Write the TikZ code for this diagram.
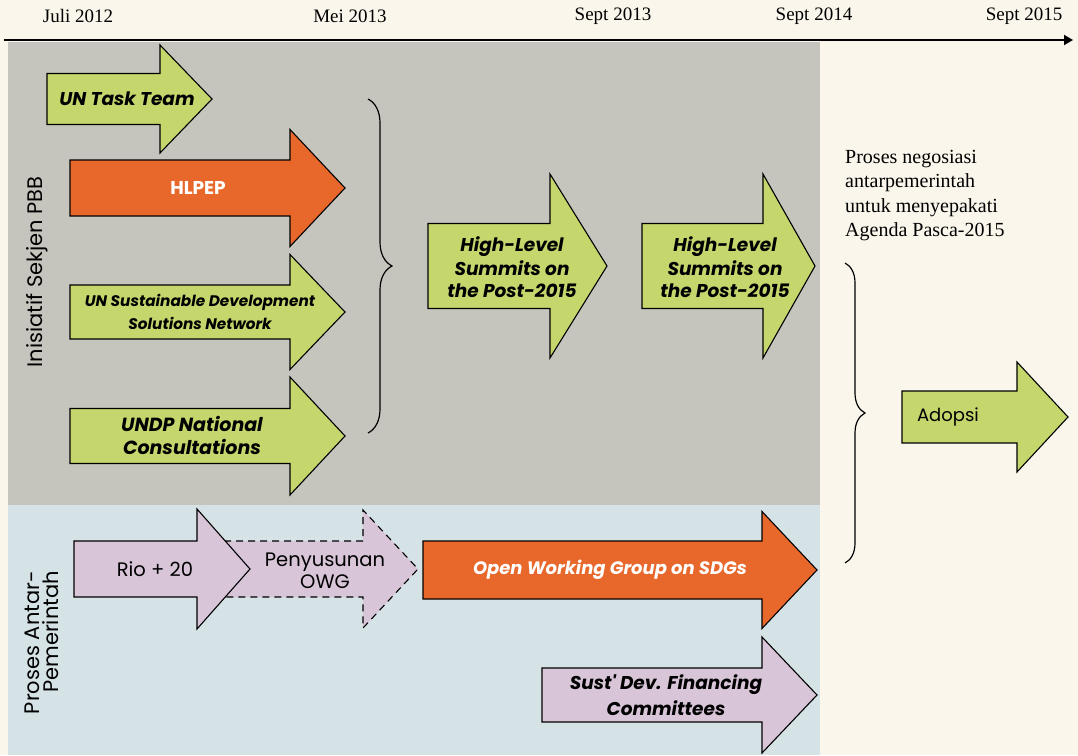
\documentclass[tikz,border=0pt]{standalone}
\usepackage{fontspec}
\setmainfont{Liberation Serif}
\newfontfamily\pop{Poppins}
\usetikzlibrary{decorations.pathreplacing,arrows.meta}
\definecolor{cream}{HTML}{FAF6EC}
\definecolor{graybg}{HTML}{C6C5BD}
\definecolor{bluebg}{HTML}{D5E2E6}
\definecolor{agreen}{HTML}{C4D66C}
\definecolor{aorange}{HTML}{E8682C}
\definecolor{apurple}{HTML}{D8C5D8}
\newcommand{\blockarrow}[8][]{%
  \draw[#1] (#3,#6-#7) -- (#4,#6-#7) -- (#4,#6-#8) -- (#5,#6) -- (#4,#6+#8) -- (#4,#6+#7) -- (#3,#6+#7) -- cycle;
  \coordinate (#2) at (#5,#6);}
\newcommand{\fs}[1]{\fontsize{#1pt}{#1pt}\selectfont}
\newcommand{\negfont}{\fontsize{20pt}{24.5pt}\selectfont}
\newcommand{\sidefont}{\fontsize{21pt}{19pt}\selectfont}
\begin{document}
\begin{tikzpicture}[x=1pt,y=-1pt,
  arr/.style={draw=black, line width=1.1pt, line join=miter},
  garrow/.style={arr, fill=agreen},
  oarrow/.style={arr, fill=aorange},
  parrow/.style={arr, fill=apurple},
  lab/.style={inner sep=0pt, align=center, font=\pop\bfseries\itshape\fs{18.5}, text=black},
  plain/.style={inner sep=0pt, align=center, font=\pop\fs{19.5}, text=black},
  date/.style={inner sep=0pt, font=\fs{19}},
  bracestyle/.style={line width=1.2pt, decorate, decoration={brace, amplitude=#1}}
]
\fill[cream] (0,0) rectangle (1078,755);
\useasboundingbox (0,0) rectangle (1078,755);
\fill[graybg] (8,42) rectangle (820,505);
\fill[bluebg] (8,505) rectangle (820,755);

% timeline
\coordinate (t0) at (4,40);
\coordinate (t1) at (1073,40);
\draw[line width=1.8pt, -{Triangle[length=9pt,width=10pt]}] (t0) -- (t1);
\node[date] (d1) at (78,16) {Juli 2012};
\node[date] (d2) at (350,16) {Mei 2013};
\node[date] (d3) at (613,16) {Sept 2013};
\node[date] (d4) at (814,16) {Sept 2014};
\node[date] (d5) at (1024,16) {Sept 2015};

% upper arrows
\blockarrow[garrow]{a1}{47}{160}{212}{99}{25.5}{54}
\blockarrow[oarrow]{a2}{70}{290}{345}{188}{28}{58.5}
\blockarrow[garrow]{a3}{70}{290}{345}{312}{27}{57.5}
\blockarrow[garrow]{a4}{70}{290}{345}{436}{27.5}{59}
\blockarrow[garrow]{a5}{428}{550}{607}{266}{42.5}{92}
\blockarrow[garrow]{a6}{642}{763}{815}{266}{42.5}{92}
\blockarrow[garrow]{a7}{902}{1017}{1068}{417}{26}{55}

% lower arrows
\blockarrow[parrow,dash pattern=on 7pt off 5pt]{a9}{200}{363}{418}{569}{28}{59}
\blockarrow[parrow]{a8}{74}{197}{250}{569}{28}{60}
\blockarrow[oarrow]{a10}{423}{762}{817}{570}{29}{58.5}
\blockarrow[parrow]{a11}{542}{762}{817}{695}{27}{58}

% braces
\coordinate (b1t) at (368,99);
\coordinate (b1b) at (368,433);
\draw[bracestyle=24pt] (b1t) -- (b1b);
\coordinate (b2t) at (845,263);
\coordinate (b2b) at (845,563);
\draw[bracestyle=20pt] (b2t) -- (b2b);

% labels
\node[lab] (l1) at (127,99) {UN Task Team};
\node[plain, font=\pop\bfseries\fs{18.5}, text=white] (l2) at (198,188) {HLPEP};
\node[lab, font=\pop\bfseries\itshape\fs{15.3}] (l3) at (200,312) {UN Sustainable Development\\[6pt]Solutions Network};
\node[lab, font=\pop\bfseries\itshape\fs{19}] (l4) at (192,435) {UNDP National\\[4pt]Consultations};
\node[lab] (l5) at (512,267) {High-Level\\[3pt]Summits on\\[3pt]the Post-2015};
\node[lab] (l6) at (725,267) {High-Level\\[3pt]Summits on\\[3pt]the Post-2015};
\node[plain, font=\pop\fs{18}] (l7) at (948,417) {Adopsi};
\node[plain] (l8) at (155,569) {Rio + 20};
\node[plain] (l9) at (325,571) {Penyusunan\\[2pt]OWG};
\node[lab, text=white, font=\pop\itshape\bfseries\fs{18}] (l10) at (610,570) {Open Working Group on SDGs};
\node[lab] (l11) at (666,695) {Sust' Dev. Financing\\[5pt]Committees};

\node[plain, rotate=90, font=\pop\fs{21}] (s1) at (37,272) {Inisiatif Sekjen PBB};
\node[plain, rotate=90, anchor=east, align=right, font=\pop\sidefont] (s2) at (42,571) {Proses Antar-\\Pemerintah};

\node[inner sep=0pt, anchor=north west, align=left, font=\negfont] (neg) at (845,150)
  {Proses negosiasi\\antarpemerintah\\untuk menyepakati\\Agenda Pasca-2015};
\end{tikzpicture}
\end{document}
